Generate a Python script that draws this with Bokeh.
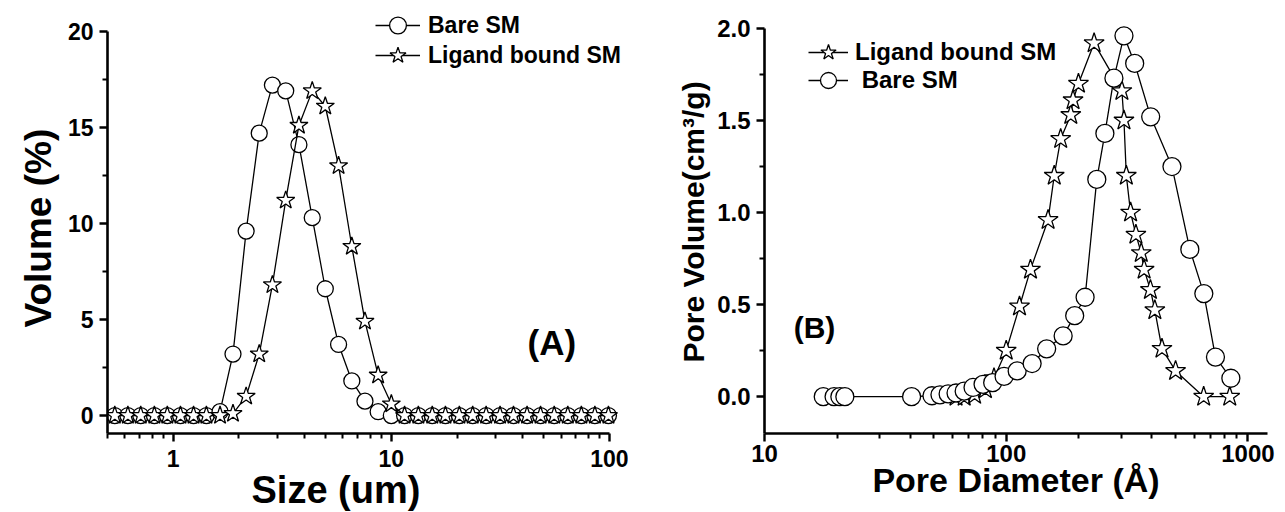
from bokeh.plotting import figure
from bokeh.layouts import row
from bokeh.models import (FixedTicker, NumeralTickFormatter, Legend, LegendItem,
                          Label, Range1d, Title)
from bokeh.embed import file_html
from bokeh.resources import INLINE

FONT = "Liberation Sans"

# ---------------- Panel (A): particle size distribution ----------------
size_um = [0.54, 0.62, 0.71, 0.82, 0.94, 1.08, 1.24, 1.42, 1.64, 1.88, 2.16,
           2.48, 2.85, 3.28, 3.77, 4.34, 4.98, 5.73, 6.59, 7.57, 8.70, 10.0,
           11.5, 13.3, 15.4, 17.7, 20.5, 23.6, 27.2, 31.5, 36.3, 41.9, 48.3,
           55.8, 64.4, 74.3, 85.7, 98.9]
bare_volume = [0, 0, 0, 0, 0, 0, 0, 0, 0.2, 3.2, 9.6,
               14.7, 17.2, 16.9, 14.1, 10.3, 6.6, 3.7, 1.8, 0.75, 0.2, 0.0,
               0, 0, 0, 0, 0, 0, 0, 0, 0, 0, 0,
               0, 0, 0, 0, 0]
ligand_volume = [0, 0, 0, 0, 0, 0, 0, 0, 0, 0.1, 1.0,
                 3.2, 6.8, 11.2, 15.1, 16.9, 16.1, 13.0, 8.8, 4.9, 2.1, 0.6,
                 0, 0, 0, 0, 0, 0, 0, 0, 0, 0, 0,
                 0, 0, 0, 0, 0]

size_ticks = [1, 10, 100]
size_minor = [0.5, 0.6, 0.7, 0.8, 0.9, 2, 3, 4, 5, 6, 7, 8, 9,
              20, 30, 40, 50, 60, 70, 80, 90]
volume_ticks = [0, 5, 10, 15, 20]
volume_minor = [2.5, 7.5, 12.5, 17.5]

# ---------------- Panel (B): pore size distribution ----------------
pore_lig_d = [62, 67, 74, 82, 89, 100, 113.5, 126, 149, 158, 168, 185, 189,
              199, 231, 301, 307, 314, 327, 344, 362, 372, 395, 412, 441,
              502, 656, 841]
pore_lig_v = [0.0, 0.0, 0.01, 0.04, 0.1, 0.25, 0.49, 0.69, 0.96, 1.2, 1.40,
              1.53, 1.61, 1.70, 1.92, 1.66, 1.50, 1.20, 1.0, 0.88, 0.78, 0.69,
              0.58, 0.47, 0.26, 0.14, 0.0, 0.0]
pore_bare_d = [17.5, 19.4, 20.5, 21.5, 40.6, 49.3, 53.2, 57.5, 62, 67, 72.9,
               80.2, 87.9, 98, 111, 128, 147, 172, 192, 212, 237, 256, 279,
               307, 340, 396, 485, 575, 657, 734, 850]
pore_bare_v = [0, 0, 0, 0, 0, 0.005, 0.01, 0.015, 0.02, 0.03, 0.05,
               0.067, 0.076, 0.11, 0.14, 0.18, 0.26, 0.33, 0.44, 0.54, 1.18,
               1.43, 1.73, 1.96, 1.81, 1.52, 1.25, 0.80, 0.56, 0.215, 0.10]

diam_ticks = [10, 100, 1000]
diam_minor = [20, 30, 40, 50, 60, 70, 80, 90,
              200, 300, 400, 500, 600, 700, 800, 900]
pv_ticks = [0.0, 0.5, 1.0, 1.5, 2.0]
pv_minor = [0.25, 0.75, 1.25, 1.75]


def style_axes(p, tick_size, x_standoff):
    p.outline_line_color = None
    p.grid.visible = False
    p.background_fill_color = "white"
    p.border_fill_color = "white"
    for ax in p.axis:
        ax.axis_line_width = 2.6
        ax.axis_line_color = "black"
        ax.major_tick_line_width = 2.4
        ax.minor_tick_line_width = 2.0
        ax.major_tick_line_color = "black"
        ax.minor_tick_line_color = "black"
        ax.major_tick_in = 0
        ax.major_tick_out = 8
        ax.minor_tick_in = 0
        ax.minor_tick_out = 5
        ax.major_label_text_font = FONT
        ax.major_label_text_font_style = "bold"
        ax.major_label_text_font_size = tick_size
        ax.major_label_text_color = "black"
    p.yaxis.major_label_standoff = 6
    p.xaxis.major_label_standoff = x_standoff


def side_title(text, size, align, offset, standoff, valign="bottom"):
    t = Title(text=text, align=align, offset=offset, text_font=FONT,
              text_font_style="bold", text_font_size=size, text_color="black",
              vertical_align=valign)
    try:
        t.standoff = standoff
    except Exception:
        t.standoff = 0
    return t


def one_item_legend(label, renderers, loc, gw, gh, standoff, fsize):
    return Legend(items=[LegendItem(label=label, renderers=renderers)],
                  location=loc, glyph_width=gw, glyph_height=gh,
                  label_height=gh, padding=0, margin=0, spacing=0,
                  label_standoff=standoff, border_line_color=None,
                  background_fill_alpha=0, label_text_font=FONT,
                  label_text_font_style="bold", label_text_font_size=fsize,
                  label_text_color="black")


# ----- figure A -----
p1 = figure(width=628, height=511, x_axis_type="log",
            x_range=Range1d(0.5, 118.4), y_range=Range1d(-0.935, 21.5),
            output_backend="svg", toolbar_location=None,
            min_border_left=107, min_border_right=3,
            min_border_top=2, min_border_bottom=78)
style_axes(p1, "23px", 8)
p1.xaxis.ticker = FixedTicker(ticks=size_ticks, minor_ticks=size_minor)
p1.xaxis.formatter = NumeralTickFormatter(format="0")
p1.xaxis.bounds = (0.5, 100)
p1.yaxis.ticker = FixedTicker(ticks=volume_ticks, minor_ticks=volume_minor)
p1.yaxis.formatter = NumeralTickFormatter(format="0")
p1.yaxis.bounds = (-0.935, 20)

a_bl = p1.line(size_um, bare_volume, line_color="black", line_width=1.3)
a_bs = p1.scatter(size_um, bare_volume, marker="circle", size=16,
                  fill_color="white", line_color="black", line_width=1.3)
a_ll = p1.line(size_um, ligand_volume, line_color="black", line_width=1.3)
a_ls = p1.scatter(size_um, ligand_volume, marker="star", size=19,
                  fill_color="white", line_color="black", line_width=1.3)

p1.add_layout(one_item_legend("Bare SM", [a_bl, a_bs], (268, 387), 45, 42, 8, "23px"))
p1.add_layout(one_item_legend("Ligand bound SM", [a_ll, a_ls], (268, 357), 45, 42, 8, "23px"))

p1.add_layout(Label(x=54.4, y=3.8, text="(A)", text_font=FONT,
                    text_font_style="bold", text_font_size="35px",
                    text_color="black",
                    text_align="center", text_baseline="middle"))
p1.add_layout(side_title("Size (um)", "38px", "left", 144, -5), "below")
p1.add_layout(side_title("Volume (%)", "37px", "left", 106, 7, "top"), "left")

# ----- figure B -----
p2 = figure(width=650, height=511, x_axis_type="log",
            x_range=Range1d(10, 1205), y_range=Range1d(-0.2, 2.141),
            output_backend="svg", toolbar_location=None,
            min_border_left=136, min_border_right=11,
            min_border_top=2, min_border_bottom=78)
style_axes(p2, "24px", 3)
p2.xaxis.ticker = FixedTicker(ticks=diam_ticks, minor_ticks=diam_minor)
p2.xaxis.formatter = NumeralTickFormatter(format="0")
p2.yaxis.ticker = FixedTicker(ticks=pv_ticks, minor_ticks=pv_minor)
p2.yaxis.formatter = NumeralTickFormatter(format="0.0")
p2.yaxis.bounds = (-0.2, 2.0)

b_ll = p2.line(pore_lig_d, pore_lig_v, line_color="black", line_width=1.3)
b_ls = p2.scatter(pore_lig_d, pore_lig_v, marker="star", size=21,
                  fill_color="white", line_color="black", line_width=1.3)
b_bl = p2.line(pore_bare_d, pore_bare_v, line_color="black", line_width=1.3)
b_bs = p2.scatter(pore_bare_d, pore_bare_v, marker="circle", size=18,
                  fill_color="white", line_color="black", line_width=1.3)

p2.add_layout(one_item_legend("Ligand bound SM", [b_ll, b_ls], (44, 361), 40, 40, 7, "24px"))
p2.add_layout(one_item_legend(" Bare SM", [b_bl, b_bs], (44, 333), 40, 40, 7, "24px"))

p2.add_layout(Label(x=16.1, y=0.375, text="(B)", text_font=FONT,
                    text_font_style="bold", text_font_size="30px",
                    text_color="black",
                    text_align="center", text_baseline="middle"))
p2.add_layout(side_title("Pore Diameter (Å)", "34px", "center", 0, -11), "below")
p2.add_layout(side_title("Pore Volume(cm³/g)", "30px", "left", 71, 5, "top"), "left")

layout = row(p1, p2)
open("out.html", "w").write(file_html(layout, INLINE))
